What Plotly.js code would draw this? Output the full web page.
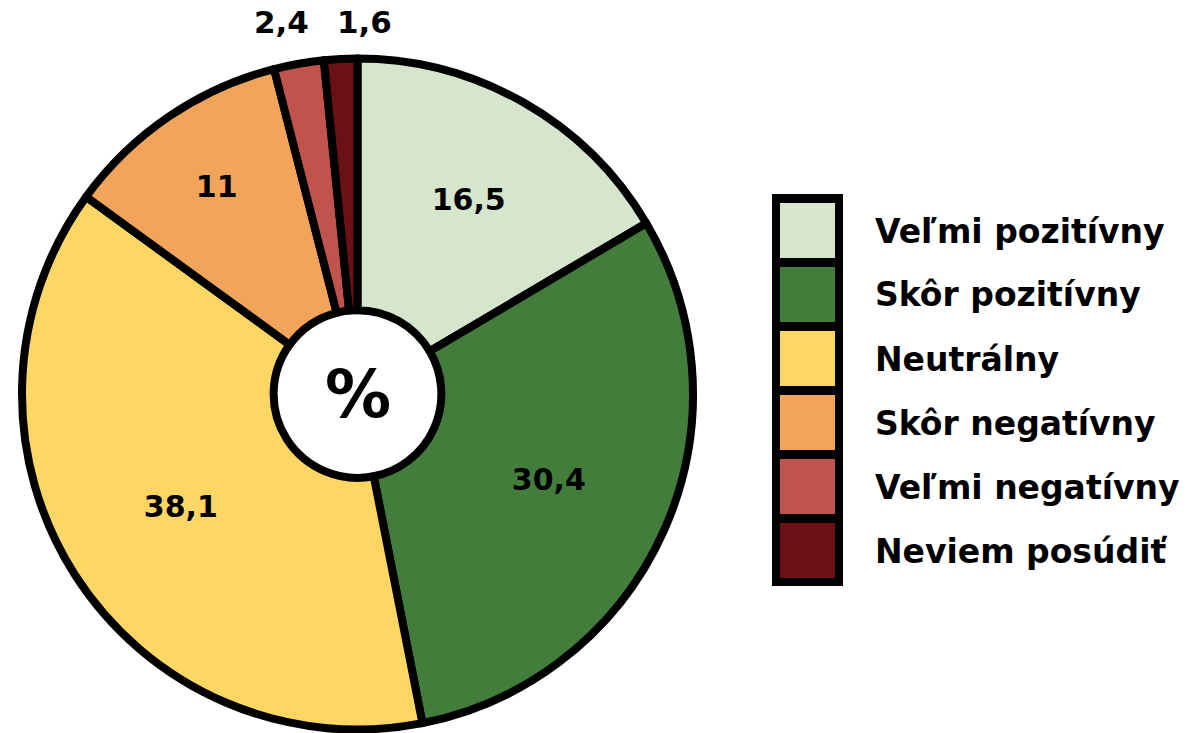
<!DOCTYPE html>
<html>
<head>
<meta charset="utf-8">
<script src="https://cdn.plot.ly/plotly-3.0.1.min.js"></script>
<style>html,body{margin:0;padding:0;background:#fff;}#chart{width:1193px;height:733px;}</style>
</head>
<body>
<div id="chart"></div>
<script>
const categories = ["Veľmi pozitívny", "Skôr pozitívny", "Neutrálny", "Skôr negatívny", "Veľmi negatívny", "Neviem posúdiť"];
const values = [16.5, 30.4, 38.1, 11, 2.4, 1.6];
const colors = ["#d5e6cc", "#427d3c", "#fdd663", "#f2a45a", "#c0544c", "#6b1014"];
const textPositions = ["inside", "inside", "inside", "inside", "none", "none"];
const centerLabel = "%";

const W = 1193, H = 733;
const px = x => x / W;
const py = y => 1 - y / H;
const FONT = "DejaVu Sans";
const fmt = v => String(v).replace(".", ",");

const cx = 357.5, cy = 394, R = 335.5;

const trace = {
  type: "pie",
  labels: categories,
  values: values,
  text: values.map(fmt),
  textinfo: "text",
  hoverinfo: "label+value",
  textposition: textPositions,
  insidetextorientation: "horizontal",
  sort: false,
  direction: "clockwise",
  rotation: 0,
  hole: 0.25,
  marker: { colors: colors, line: { color: "#000", width: 8 } },
  insidetextfont: { family: FONT, size: 30, color: "#000", weight: "bold" },
  outsidetextfont: { family: FONT, size: 30, color: "#000", weight: "bold" },
  domain: { x: [px(cx - R), px(cx + R)], y: [py(cy + R), py(cy - R)] },
  showlegend: false
};

const shapes = [];
const annotations = [];
// legend frame
shapes.push({ type: "rect", xref: "paper", yref: "paper",
  x0: px(772), x1: px(843), y0: py(586), y1: py(194),
  fillcolor: "#000", line: { width: 0 } });
categories.forEach((c, i) => {
  const top = 203 + 64 * i;
  shapes.push({ type: "rect", xref: "paper", yref: "paper",
    x0: px(780), x1: px(835), y0: py(top + 55), y1: py(top),
    fillcolor: colors[i], line: { width: 0 } });
  annotations.push({ xref: "paper", yref: "paper", x: px(873), y: py(top + 28),
    xanchor: "left", yanchor: "middle", showarrow: false, text: c,
    font: { family: FONT, size: 33, color: "#000", weight: "bold" } });
});
// labels of the two thin slices, placed above the pie
const smallLabelX = [281, 364];
[4, 5].forEach((idx, k) => {
  annotations.push({ xref: "paper", yref: "paper", x: px(smallLabelX[k]), y: py(22),
    xanchor: "center", yanchor: "middle", showarrow: false, text: fmt(values[idx]),
    font: { family: FONT, size: 31, color: "#000", weight: "bold" } });
});
annotations.push({ xref: "paper", yref: "paper", x: px(cx), y: py(cy),
  xanchor: "center", yanchor: "middle", showarrow: false, text: centerLabel,
  font: { family: FONT, size: 66, color: "#000", weight: "bold" } });

const layout = {
  width: W, height: H,
  margin: { l: 0, r: 0, t: 0, b: 0 },
  paper_bgcolor: "#fff",
  plot_bgcolor: "#fff",
  showlegend: false,
  shapes: shapes,
  annotations: annotations
};

Plotly.newPlot("chart", [trace], layout, { displayModeBar: false, staticPlot: true });
</script>
</body>
</html>
